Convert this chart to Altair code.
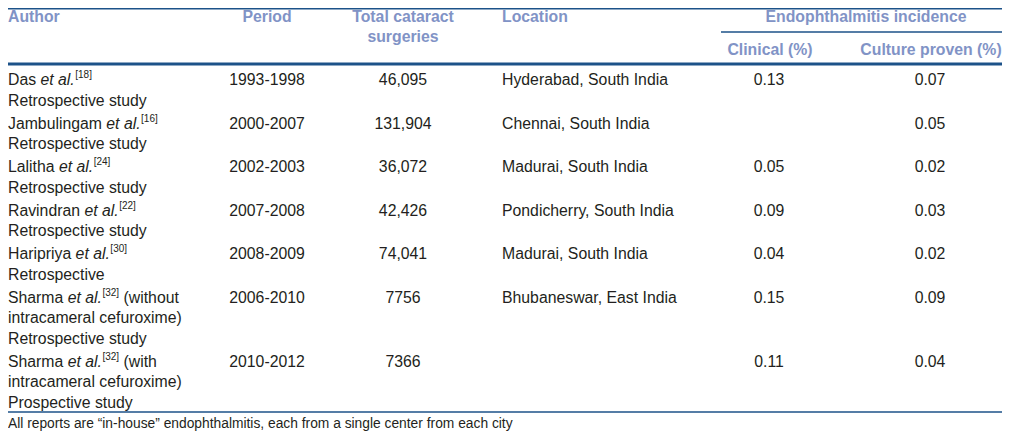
import altair as alt
import pandas as pd

# ---------------- data ----------------
headers_top = ["Author", "Period", "Total cataract", "Location", "Endophthalmitis incidence"]
header_second = "surgeries"
sub_headers = ["Clinical (%)", "Culture proven (%)"]

author_names = ["Das", "Jambulingam", "Lalitha", "Ravindran", "Haripriya", "Sharma", "Sharma"]
author_refs = ["[18]", "[16]", "[24]", "[22]", "[30]", "[32]", "[32]"]
author_tail = ["", "", "", "", "", "(without", "(with"]
author_more = [
    ["Retrospective study"],
    ["Retrospective study"],
    ["Retrospective study"],
    ["Retrospective study"],
    ["Retrospective"],
    ["intracameral cefuroxime)", "Retrospective study"],
    ["intracameral cefuroxime)", "Prospective study"],
]
periods = ["1993-1998", "2000-2007", "2002-2003", "2007-2008", "2008-2009", "2006-2010", "2010-2012"]
totals = ["46,095", "131,904", "36,072", "42,426", "74,041", "7756", "7366"]
locations = ["Hyderabad, South India", "Chennai, South India", "Madurai, South India",
             "Pondicherry, South India", "Madurai, South India", "Bhubaneswar, East India", ""]
clinical = ["0.13", "", "0.05", "0.09", "0.04", "0.15", "0.11"]
culture = ["0.07", "0.05", "0.02", "0.03", "0.02", "0.09", "0.04"]
footnote = "All reports are \u201cin-house\u201d endophthalmitis, each from a single center from each city"

# ---------------- layout ----------------
W, H = 994, 423
FONT = "Liberation Sans"
BODY = 15.8
SUP = 10
FOOT = 13.8
HEAD_COLOR = "#8193c6"
TEXT_COLOR = "#231f20"
LINE_COLOR = "#1c5289"
F2 = (404 - 72) / (416.5 - 80)


def X(v):
    return max(0.0, v - 8)


def Y(v):
    if v <= 80:
        return max(0.8, v - 8)
    return 72 + (v - 80) * F2


# Helvetica / Arial advance widths (per 1000 em)
_w = {" ": 278, "(": 333, ")": 333, ",": 278, "-": 333, ".": 278, "[": 278, "]": 278}
for ch in "0123456789":
    _w[ch] = 556
_w.update(dict(zip("abcdefghijklmnopqrstuvwxyz",
                   [556, 556, 500, 556, 556, 278, 556, 556, 222, 222, 500, 222, 833,
                    556, 556, 556, 556, 333, 500, 278, 556, 500, 722, 500, 500, 500])))
_w.update(dict(zip("ABCDEFGHIJKLMNOPQRSTUVWXYZ",
                   [667, 667, 722, 722, 667, 611, 778, 722, 278, 500, 667, 556, 833,
                    722, 778, 667, 778, 722, 667, 611, 722, 667, 944, 667, 667, 611])))


def tw(s, size):
    return sum(_w.get(c, 556) for c in s) * size / 1000.0


col_author, col_period, col_total, col_loc, col_clin, col_cult = 8, 267, 403, 502, 769, 930
head_y1, head_y2, head_y3 = 17, 37, 50
row_y0, line_h, row_gap = 80, 20.8, 2.5

rows = []
# headers
rows.append(dict(x=X(col_author), y=Y(head_y1), text=headers_top[0], style="head_l"))
rows.append(dict(x=X(col_period), y=Y(head_y1), text=headers_top[1], style="head_c"))
rows.append(dict(x=X(col_total), y=Y(head_y1), text=headers_top[2], style="head_c"))
rows.append(dict(x=X(col_total), y=Y(head_y2), text=header_second, style="head_c"))
rows.append(dict(x=X(col_loc), y=Y(head_y1), text=headers_top[3], style="head_l"))
rows.append(dict(x=X(866), y=Y(head_y1), text=headers_top[4], style="head_c"))
rows.append(dict(x=X(col_clin + 1), y=Y(head_y3), text=sub_headers[0], style="head_c"))
rows.append(dict(x=X(col_cult + 1), y=Y(head_y3), text=sub_headers[1], style="head_c"))

# body
y = row_y0
for i in range(len(author_names)):
    yy = Y(y)
    x0 = X(col_author)
    first = author_names[i] + " "
    rows.append(dict(x=x0, y=yy, text=author_names[i], style="body_l"))
    x1 = x0 + tw(first, BODY)
    rows.append(dict(x=x1, y=yy, text="et al.", style="ital"))
    x2 = x1 + tw("et al.", BODY) + 0.5
    rows.append(dict(x=x2, y=yy - 5, text=author_refs[i], style="sup"))
    if author_tail[i]:
        x3 = x2 + tw(author_refs[i], SUP) + tw(" ", BODY)
        rows.append(dict(x=x3, y=yy, text=author_tail[i], style="body_l"))
    for j, extra in enumerate(author_more[i]):
        rows.append(dict(x=x0, y=Y(y + (j + 1) * line_h), text=extra, style="body_l"))
    rows.append(dict(x=X(col_period), y=yy, text=periods[i], style="body_c"))
    rows.append(dict(x=X(col_total), y=yy, text=totals[i], style="body_c"))
    if locations[i]:
        rows.append(dict(x=X(col_loc), y=yy, text=locations[i], style="body_l"))
    if clinical[i]:
        rows.append(dict(x=X(col_clin), y=yy, text=clinical[i], style="body_c"))
    if culture[i]:
        rows.append(dict(x=X(col_cult), y=yy, text=culture[i], style="body_c"))
    y += (1 + len(author_more[i])) * line_h + row_gap

rows.append(dict(x=X(col_author), y=min(Y(431), 416), text=footnote, style="foot"))
tdf = pd.DataFrame(rows)

lines = pd.DataFrame([
    dict(x=0, x2=W, y=0.8, sw=1.6),
    dict(x=X(721), x2=W, y=Y(32), sw=1.5),
    dict(x=0, x2=W, y=Y(64), sw=3.0),
    dict(x=0, x2=W, y=Y(416.5), sw=1.6),
])

xs = alt.Scale(domain=[0, W], nice=False, zero=False)
ys = alt.Scale(domain=[0, H], nice=False, zero=False, reverse=True)

rule = alt.Chart(lines).mark_rule(color=LINE_COLOR).encode(
    x=alt.X("x:Q", scale=xs, axis=None),
    x2="x2:Q",
    y=alt.Y("y:Q", scale=ys, axis=None),
    strokeWidth=alt.StrokeWidth("sw:Q", scale=None, legend=None),
)

styles = {
    "head_l": dict(align="left", fontWeight="bold", color=HEAD_COLOR, fontSize=BODY),
    "head_c": dict(align="center", fontWeight="bold", color=HEAD_COLOR, fontSize=BODY),
    "body_l": dict(align="left", color=TEXT_COLOR, fontSize=BODY),
    "body_c": dict(align="center", color=TEXT_COLOR, fontSize=BODY),
    "ital": dict(align="left", fontStyle="italic", color=TEXT_COLOR, fontSize=BODY),
    "sup": dict(align="left", color=TEXT_COLOR, fontSize=SUP),
    "foot": dict(align="left", color=TEXT_COLOR, fontSize=FOOT),
}

layers = [rule]
for name, props in styles.items():
    layers.append(
        alt.Chart(tdf).transform_filter(alt.datum.style == name)
        .mark_text(font=FONT, baseline="middle", **props)
        .encode(
            x=alt.X("x:Q", scale=xs, axis=None),
            y=alt.Y("y:Q", scale=ys, axis=None),
            text="text:N",
        )
    )

chart = alt.layer(*layers).properties(
    width=W, height=H, padding=0,
    autosize=alt.AutoSizeParams(type="none"),
    background="white",
).configure_view(strokeWidth=0)

chart.save("out.html", embed_options={"renderer": "svg", "actions": False})
